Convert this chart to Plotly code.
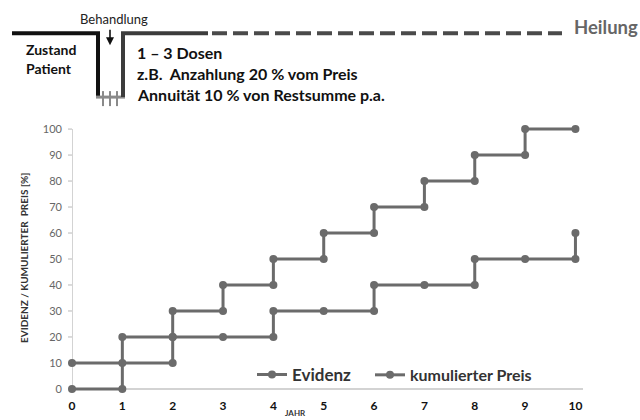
import plotly.graph_objects as go

# ---- data ----
jahr_evidenz = [0, 1, 1, 2, 2, 3, 3, 4, 4, 5, 5, 6, 6, 7, 7, 8, 8, 9, 9, 10]
evidenz = [0, 0, 20, 20, 30, 30, 40, 40, 50, 50, 60, 60, 70, 70, 80, 80, 90, 90, 100, 100]
jahr_preis = [0, 1, 2, 2, 3, 4, 4, 5, 6, 6, 7, 8, 8, 9, 10, 10]
preis = [10, 10, 10, 20, 20, 20, 30, 30, 30, 40, 40, 40, 50, 50, 50, 60]
x_ticks = list(range(0, 11))
y_ticks = list(range(0, 101, 10))

FONT = "Lato"
GRAY = "#6b6b6b"

# plot area in pixels (y range padded slightly so edge lines are not clipped)
W, H = 640, 420
L, R = 72, 583
Y0, Y100 = 389, 129
PAD = 0.8
UNIT = (Y0 - Y100) / 100
T = Y100 - PAD * UNIT
B = Y0 + PAD * UNIT


def px(x):
    return (x - L) / (R - L)


def py(y):
    return (B - y) / (B - T)


fig = go.Figure()
fig.add_trace(go.Scatter(
    x=jahr_evidenz, y=evidenz, name="Evidenz", mode="lines+markers",
    line=dict(color=GRAY, width=3), marker=dict(color=GRAY, size=8),
    cliponaxis=False, legend="legend"))
fig.add_trace(go.Scatter(
    x=jahr_preis, y=preis, name="kumulierter Preis", mode="lines+markers",
    line=dict(color=GRAY, width=3), marker=dict(color=GRAY, size=8),
    cliponaxis=False, legend="legend2"))

shapes = []


def path(pts, color, width, dash="solid"):
    d = "M " + " L ".join(f"{px(a):.5f},{py(b):.5f}" for a, b in pts)
    shapes.append(dict(type="path", path=d, xref="paper", yref="paper",
                       line=dict(color=color, width=width, dash=dash)))


# schematic at the top
path([(12, 33), (98, 33), (98, 97)], "#111111", 4)
path([(96, 97), (125, 97)], "#8a8a8a", 3)
for tx in (103, 110, 117):
    path([(tx, 91), (tx, 106)], "#8a8a8a", 2)
path([(123, 97), (123, 33), (208, 33)], "#3c3c3c", 4)
path([(212, 33), (562, 33)], "#4a4a4a", 4, dash="15px,6px")

ann = []


def text(t, x, y, size, color="#111111", bold=True, xanchor="left", angle=0):
    ann.append(dict(text=(f"<b>{t}</b>" if bold else t), x=px(x), y=py(y),
                    xref="paper", yref="paper", showarrow=False,
                    xanchor=xanchor, yanchor="middle", textangle=angle,
                    font=dict(family=FONT, size=size, color=color)))


text("Behandlung", 114, 19, 13, "#222222", bold=False, xanchor="center")
text("Zustand", 24, 49, 14)
text("Patient", 24, 68, 14)
text("1 – 3 Dosen", 135, 52, 16)
text("z.B.  Anzahlung 20 % vom Preis", 135, 73, 16)
text("Annuität 10 % von Restsumme p.a.", 135, 94, 16)
text("Heilung", 572, 27, 18.5, "#666666")
text("EVIDENZ / KUMULIERTER  PREIS [%]", 24, 258, 10, "#333333", xanchor="center", angle=-90)
text("JAHR", 295, 413, 8, "#333333", xanchor="center")

ann.append(dict(x=px(110), y=py(45), ax=0, ay=-17, xref="paper", yref="paper",
                showarrow=True, arrowhead=2, arrowsize=1, arrowwidth=1.6,
                arrowcolor="#111111", text=""))

fig.update_layout(
    width=W, height=H,
    margin=dict(l=L, r=W - R, t=T, b=H - B, autoexpand=False),
    paper_bgcolor="white", plot_bgcolor="white",
    font=dict(family=FONT),
    shapes=shapes, annotations=ann,
    showlegend=True,
    legend=dict(orientation="h", x=px(252), y=py(375), xanchor="left", yanchor="middle",
                font=dict(family=FONT, size=17, color="#333333", weight="bold"),
                bgcolor="rgba(0,0,0,0)", itemwidth=30),
    legend2=dict(orientation="h", x=px(370), y=py(375), xanchor="left", yanchor="middle",
                 font=dict(family=FONT, size=16, color="#333333", weight="bold"),
                 bgcolor="rgba(0,0,0,0)", itemwidth=30),
    xaxis=dict(range=[0, 10.15], tickvals=x_ticks, ticktext=[str(v) for v in x_ticks],
               showgrid=False, zeroline=False, showline=False, ticks="",
               ticklabelstandoff=6, automargin=False,
               tickfont=dict(family=FONT, size=12, color="#111111", weight="bold")),
    yaxis=dict(range=[-PAD, 100 + PAD], tickvals=y_ticks, showgrid=False, zeroline=False,
               showline=False, ticks="", ticklabelstandoff=9, automargin=False,
               tickfont=dict(family=FONT, size=11, color="#666666")),
)

# axis lines at the data zero positions, plus y tick marks, via axis references
fig.add_shape(type="line", xref="x", yref="y", x0=0, x1=10.15, y0=0, y1=0,
              line=dict(color="#c4c4c4", width=1.5), layer="below")
fig.add_shape(type="line", xref="x", yref="y", x0=0, x1=0, y0=0, y1=100,
              line=dict(color="#c4c4c4", width=1.5), layer="below")
for v in y_ticks:
    fig.add_shape(type="line", xref="paper", yref="y", x0=px(68), x1=px(72), y0=v, y1=v,
                  line=dict(color="#c4c4c4", width=1.2), layer="below")

fig.write_html("out.html")
